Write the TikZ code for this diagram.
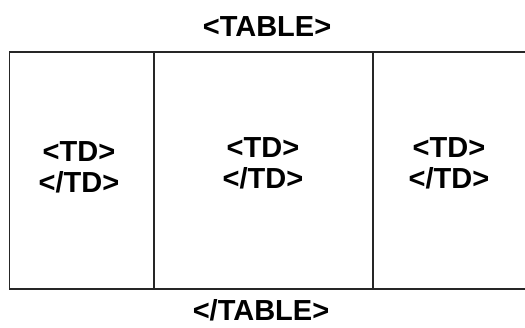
\documentclass[tikz,border=0pt]{standalone}
\usepackage{fontspec}
\setmainfont{Liberation Sans}
\usetikzlibrary{positioning}

\begin{document}
\begin{tikzpicture}[x=1pt,y=-1pt,
    tag/.style={font=\bfseries\fontsize{29}{31}\selectfont,inner sep=0pt,align=center},
    rule/.style={line width=1.6pt,black!85}]
    \useasboundingbox (0,0) rectangle (525,327);
    \clip (0,0) rectangle (525,327);

    % Table corners and column borders
    \coordinate (tl) at (9.5,52);
    \coordinate (br) at (540,289);
    \foreach \x in {154,373} {
        \draw[rule] (\x,52) -- (\x,289);
    }
    \draw[rule] (tl) rectangle (br);

    % Labels
    \node[tag,anchor=base] (open) at (267,36) {<TABLE>};
    \node[tag,anchor=base] (close) at (261,320) {</TABLE>};
    \node[tag] (td1) at (79,167) {<TD>\\</TD>};
    \node[tag] (td2) at (263,163) {<TD>\\</TD>};
    \node[tag] (td3) at (449,163) {<TD>\\</TD>};
\end{tikzpicture}
\end{document}
